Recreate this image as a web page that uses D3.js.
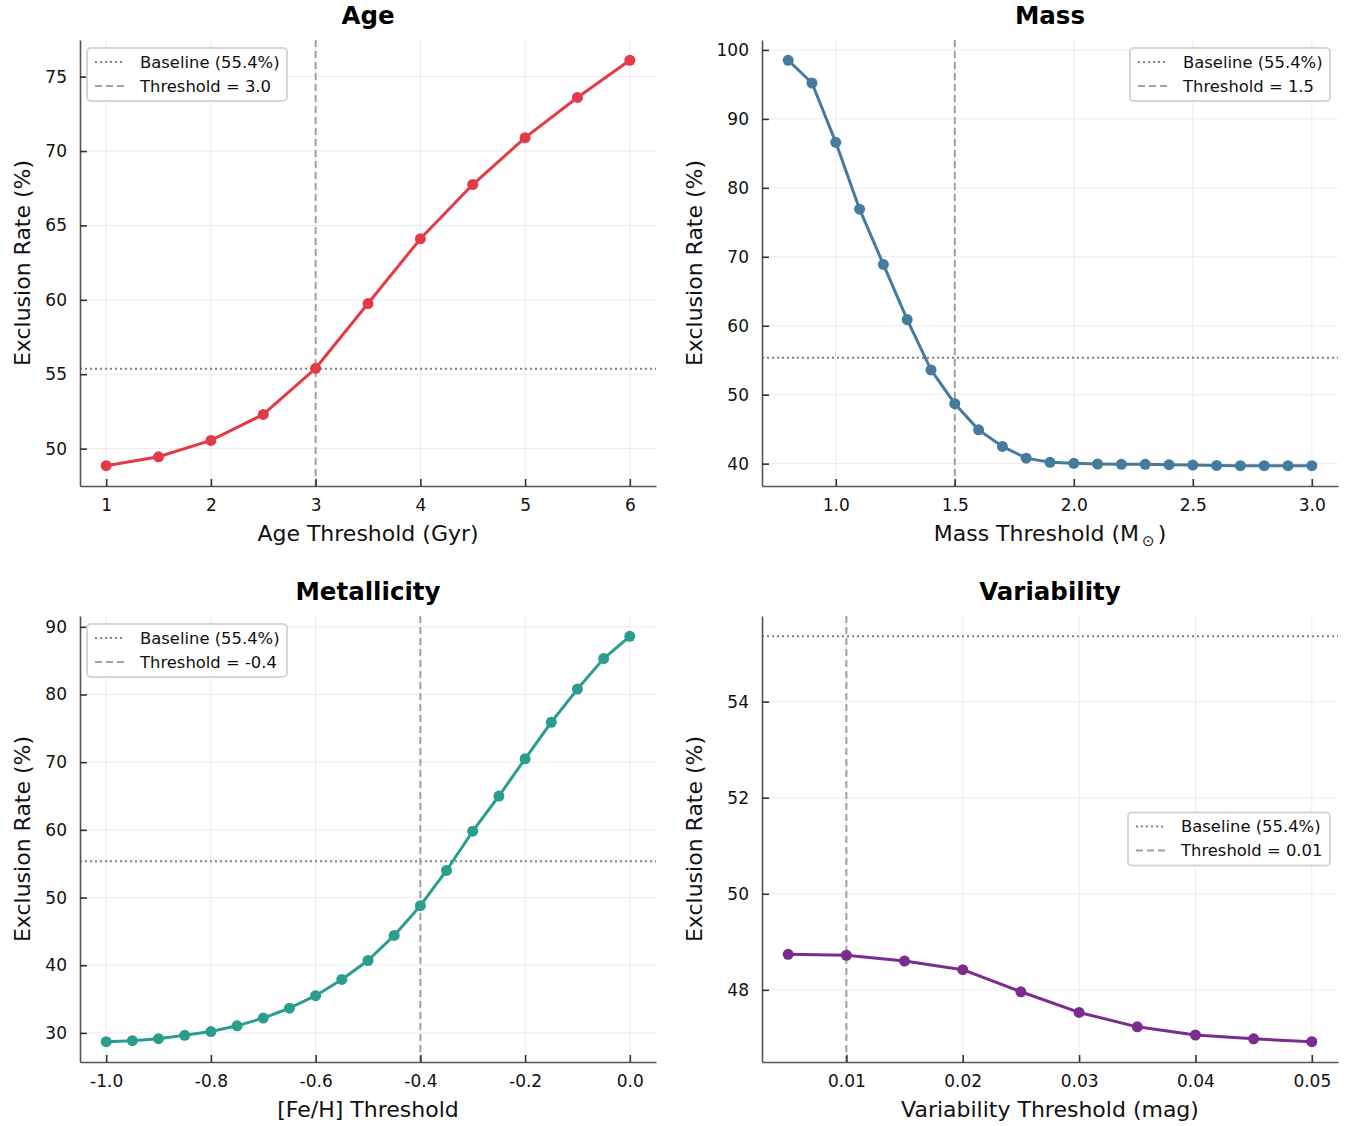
<!DOCTYPE html>
<html>
<head>
<meta charset="utf-8">
<script src="https://cdn.jsdelivr.net/npm/d3@7"></script>
<style>
  body { margin: 0; background: #fff; }
  svg { font-family: "DejaVu Sans", sans-serif; }
</style>
</head>
<body>
<div id="chart"></div>
<script>
// values
const baseline = 55.36;

const ageX = [1, 1.5, 2, 2.5, 3, 3.5, 4, 4.5, 5, 5.5, 6];
const ageY = [48.85, 49.45, 50.55, 52.3, 55.4, 59.75, 64.1, 67.75, 70.9, 73.6, 76.1];

const massX = [0.8, 0.9, 1.0, 1.1, 1.2, 1.3, 1.4, 1.5, 1.6, 1.7, 1.8, 1.9, 2.0, 2.1, 2.2, 2.3, 2.4, 2.5, 2.6, 2.7, 2.8, 2.9, 3.0];
const massY = [98.5, 95.2, 86.6, 76.9, 68.9, 60.9, 53.6, 48.7, 44.9, 42.5, 40.8, 40.2, 40.05, 39.95, 39.9, 39.9, 39.85, 39.8, 39.75, 39.7, 39.7, 39.7, 39.7];

const fehX = [-1.0, -0.95, -0.9, -0.85, -0.8, -0.75, -0.7, -0.65, -0.6, -0.55, -0.5, -0.45, -0.4, -0.35, -0.3, -0.25, -0.2, -0.15, -0.1, -0.05, 0.0];
const fehY = [28.7, 28.85, 29.15, 29.65, 30.2, 31.05, 32.2, 33.65, 35.5, 37.9, 40.7, 44.4, 48.8, 54.0, 59.8, 65.0, 70.5, 75.9, 80.8, 85.3, 88.6];

const varX = [0.005, 0.01, 0.015, 0.02, 0.025, 0.03, 0.035, 0.04, 0.045, 0.05];
const varY = [48.74, 48.72, 48.6, 48.42, 47.96, 47.53, 47.23, 47.06, 46.98, 46.92];

const ageTicks = [1, 2, 3, 4, 5, 6];
const ageYTicks = [50, 55, 60, 65, 70, 75];
const massTicks = [1.0, 1.5, 2.0, 2.5, 3.0];
const massYTicks = [40, 50, 60, 70, 80, 90, 100];
const fehTicks = [-1.0, -0.8, -0.6, -0.4, -0.2, 0.0];
const fehYTicks = [30, 40, 50, 60, 70, 80, 90];
const varTicks = [0.01, 0.02, 0.03, 0.04, 0.05];
const varYTicks = [48, 50, 52, 54];

const panels = [
  { title: "Age", xs: ageX, ys: ageY, color: "#e63946", thr: 3.0, thrLabel: "Threshold = 3.0",
    xTicks: ageTicks, yTicks: ageYTicks, xFmt: d3.format("d"), xLabel: "Age Threshold (Gyr)",
    left: 80, top: 40, legend: "ul" },
  { title: "Mass", xs: massX, ys: massY, color: "#457b9d", thr: 1.5, thrLabel: "Threshold = 1.5",
    xTicks: massTicks, yTicks: massYTicks, xFmt: d3.format(".1f"), xLabel: "mass",
    left: 762, top: 40, legend: "ur" },
  { title: "Metallicity", xs: fehX, ys: fehY, color: "#2a9d8f", thr: -0.4, thrLabel: "Threshold = -0.4",
    xTicks: fehTicks, yTicks: fehYTicks, xFmt: d => d3.format(".1f")(d).replace("−", "-"), xLabel: "[Fe/H] Threshold",
    left: 80, top: 616, legend: "ul" },
  { title: "Variability", xs: varX, ys: varY, color: "#7b2d8e", thr: 0.01, thrLabel: "Threshold = 0.01",
    xTicks: varTicks, yTicks: varYTicks, xFmt: d3.format(".2f"), xLabel: "Variability Threshold (mag)",
    left: 762, top: 616, legend: "cr" }
];

const W = 1353, H = 1126;
const pw = 576, ph = 446;

const svg = d3.select("#chart").append("svg")
  .attr("width", W)
  .attr("height", H);

panels.forEach(p => {
  const xMin = d3.min(p.xs), xMax = d3.max(p.xs);
  const xm = (xMax - xMin) * 0.05;
  const yMin = Math.min(d3.min(p.ys), baseline), yMax = Math.max(d3.max(p.ys), baseline);
  const ym = (yMax - yMin) * 0.05;

  const x = d3.scaleLinear().domain([xMin - xm, xMax + xm]).range([0, pw]);
  const y = d3.scaleLinear().domain([yMin - ym, yMax + ym]).range([ph, 0]);

  const g = svg.append("g").attr("transform", `translate(${p.left},${p.top})`);

  // grid
  g.append("g").selectAll("line").data(p.xTicks).join("line")
    .attr("x1", d => x(d)).attr("x2", d => x(d)).attr("y1", 0).attr("y2", ph)
    .attr("stroke", "#ebebeb").attr("stroke-width", 1);
  g.append("g").selectAll("line").data(p.yTicks).join("line")
    .attr("y1", d => y(d)).attr("y2", d => y(d)).attr("x1", 0).attr("x2", pw)
    .attr("stroke", "#ebebeb").attr("stroke-width", 1);

  // reference lines
  g.append("line")
    .attr("x1", 0).attr("x2", pw).attr("y1", y(baseline)).attr("y2", y(baseline))
    .attr("stroke", "#808080").attr("stroke-width", 2).attr("stroke-dasharray", "2,3");
  g.append("line")
    .attr("x1", x(p.thr)).attr("x2", x(p.thr)).attr("y1", 0).attr("y2", ph)
    .attr("stroke", "#a0a0a0").attr("stroke-width", 2).attr("stroke-dasharray", "7,4");

  // data
  const pts = p.xs.map((v, i) => [v, p.ys[i]]);
  const line = d3.line().x(d => x(d[0])).y(d => y(d[1]));
  g.append("path")
    .datum(pts)
    .attr("fill", "none")
    .attr("stroke", p.color)
    .attr("stroke-width", 3)
    .attr("stroke-linejoin", "round")
    .attr("d", line);
  g.append("g").selectAll("circle").data(pts).join("circle")
    .attr("cx", d => x(d[0])).attr("cy", d => y(d[1])).attr("r", 5.5)
    .attr("fill", p.color);

  // axes
  const xAxis = g.append("g")
    .attr("transform", `translate(0,${ph})`)
    .call(d3.axisBottom(x).tickValues(p.xTicks).tickFormat(p.xFmt).tickSizeInner(-7).tickSizeOuter(0).tickPadding(13));
  const yAxis = g.append("g")
    .call(d3.axisLeft(y).tickValues(p.yTicks).tickSizeInner(-7).tickSizeOuter(0).tickPadding(13));
  [xAxis, yAxis].forEach(a => {
    a.select(".domain").attr("stroke", "#555").attr("stroke-width", 1.6);
    a.selectAll(".tick line").attr("stroke", "#333").attr("stroke-width", 1.6);
    a.selectAll(".tick text").attr("fill", "#111").style("font-size", "17px")
      .style("font-family", "DejaVu Sans, sans-serif");
  });

  // title
  g.append("text")
    .attr("x", pw / 2).attr("y", -16)
    .attr("text-anchor", "middle")
    .style("font-size", "24.5px").style("font-weight", "bold")
    .text(p.title);

  // axis labels
  const xl = g.append("text")
    .attr("x", pw / 2).attr("y", ph + 55)
    .attr("text-anchor", "middle")
    .style("font-size", "22px").attr("fill", "#111");
  if (p.xLabel === "mass") {
    xl.append("tspan").text("Mass Threshold (M");
    xl.append("tspan").attr("dx", 3).attr("dy", 5).style("font-size", "15px").text("\u2299");
    xl.append("tspan").attr("dx", 3).attr("dy", -5).text(")");
  } else {
    xl.text(p.xLabel);
  }
  g.append("text")
    .attr("transform", `translate(${p.left === 80 ? -50 : -60},${ph / 2}) rotate(-90)`)
    .attr("text-anchor", "middle")
    .style("font-size", "22px").attr("fill", "#111")
    .text("Exclusion Rate (%)");

  // legend
  const lw = p.legend === "cr" ? 202 : 200, lh = 53;
  let lx = 7, ly = 8;
  if (p.legend === "ur") lx = pw - lw - 8;
  if (p.legend === "cr") { lx = pw - lw - 8; ly = ph / 2 - lh / 2; }
  const lg = g.append("g").attr("transform", `translate(${lx},${ly})`);
  lg.append("rect")
    .attr("width", lw).attr("height", lh).attr("rx", 4)
    .attr("fill", "#fff").attr("fill-opacity", 0.85)
    .attr("stroke", "#d5d5d5").attr("stroke-width", 2);
  const items = [
    { label: "Baseline (55.4%)", stroke: "#808080", dash: "2,3" },
    { label: p.thrLabel, stroke: "#a0a0a0", dash: "7,4" }
  ];
  items.forEach((it, i) => {
    const yy = 14 + i * 24;
    lg.append("line")
      .attr("x1", 8).attr("x2", 38).attr("y1", yy).attr("y2", yy)
      .attr("stroke", it.stroke).attr("stroke-width", 2).attr("stroke-dasharray", it.dash);
    lg.append("text")
      .attr("x", 53).attr("y", yy + 5.5)
      .style("font-size", "16.4px").attr("fill", "#111")
      .text(it.label);
  });
});
</script>
</body>
</html>
